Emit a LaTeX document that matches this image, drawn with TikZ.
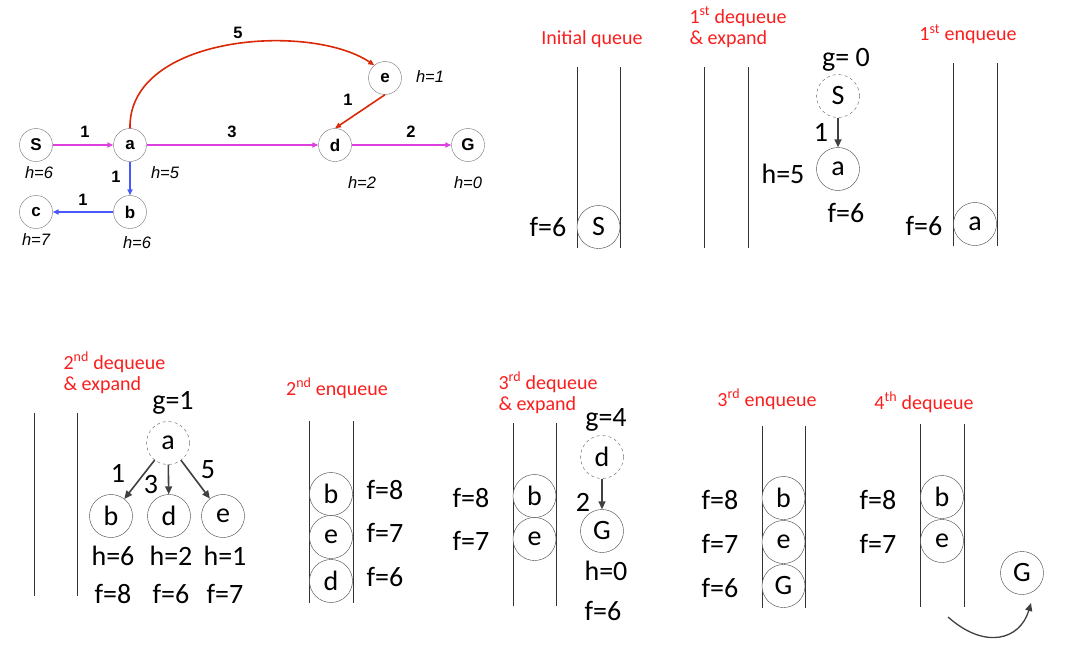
\documentclass[tikz,border=0pt]{standalone}
\usepackage{fontspec}
\setmainfont{Carlito}
\newfontfamily\arialfont{Liberation Sans}
\usetikzlibrary{arrows.meta}

\begin{document}
\begin{tikzpicture}[x=1pt,y=-1pt]
\definecolor{steptext}{RGB}{250,30,30}
\definecolor{pinkedge}{RGB}{222,64,222}
\definecolor{blueedge}{RGB}{72,88,250}
\definecolor{redarc}{RGB}{218,40,8}
\tikzset{
  gnode/.style={draw=black!55,circle,fill=white,minimum size=33pt,inner sep=0pt,
    font=\arialfont\bfseries\fontsize{17}{17}\selectfont},
  hlab/.style={font=\arialfont\itshape\fontsize{16.5}{16.5}\selectfont},
  wlab/.style={font=\arialfont\bfseries\fontsize{16.5}{16.5}\selectfont},
  gedge/.style={line width=1.6pt,-{Triangle[length=6pt,width=5pt]}},
  qnode/.style={draw=black!75,circle,fill=white,minimum size=43pt,inner sep=0pt,
    font=\fontsize{28}{28}\selectfont},
  popped/.style={qnode,dashed,draw=black!65},
  lab/.style={font=\fontsize{28}{28}\selectfont},
  steplab/.style={text=steptext,font=\fontsize{20}{21}\selectfont,align=left},
  wall/.style={draw=black!80,line width=0.9pt},
  tarrow/.style={draw=black!75,line width=1.6pt,-{Triangle[length=8pt,width=7pt]}},
}
\useasboundingbox (0,0) rectangle (1066,645);

% the search graph, edge costs and heuristic h
\node[gnode] (S) at (36,145) {S};
\node[gnode] (a) at (130,145) {a};
\node[gnode] (d) at (335,145) {d};
\node[gnode] (G) at (468,145) {G};
\node[gnode] (e) at (385,78) {e};
\node[gnode] (b) at (130,212) {b};
\node[gnode] (c) at (36,212) {c};
\draw[gedge,pinkedge] (S) -- (a);
\draw[gedge,pinkedge] (a) -- (d);
\draw[gedge,pinkedge] (d) -- (G);
\draw[gedge,blueedge] (a) -- (b);
\draw[gedge,blueedge] (b) -- (c);
\draw[gedge,redarc] (a.north) .. controls (128,35) and (310,22) .. (e.130);
\draw[gedge,redarc] (e.south) -- (d.north);
\foreach \nm/\xx/\yy/\w in {Sa/85/132/1, ad/232/132/3, dG/411/132/2, ae/238/33/5, ed/348/100/1, ab/116/177/1, bc/83/200/1}
  \node[wlab] (w\nm) at (\xx,\yy) {\w};
\foreach \nm/\xx/\yy/\h in {S/39/173/6, a/165/173/5, d/362/183/2, G/468/183/0, e/430/77/1, c/36/240/7, b/137/243/6}
  \node[hlab] (h\nm) at (\xx,\yy) {h=\h};

% queue walls: left x / right x / top y / bottom y
\foreach \xl/\xr/\yt/\yb in {577/620/67/248, 704/748/67/248, 953/997/63/246, 34/77/413/596,
    309/353/421/603, 513/556/423/606, 762/805/426/608, 920/964/424/607}
  \draw[wall] (\xl,\yt) -- (\xl,\yb) (\xr,\yt) -- (\xr,\yb);

% initial queue
\node[steplab] (t0) at (592,39) {Initial queue};
\node[qnode] (q0S) at (598.5,227) {S};
\node[lab] (f0S) at (548,227) {f=6};

% 1st dequeue & expand
\node[steplab,anchor=west] (t1) at (686,27) {1\textsuperscript{st} dequeue\\\& expand};
\node[lab] (g1) at (846,60) {g= 0};
\node[popped] (x1S) at (838,96) {S};
\node[qnode] (x1a) at (838,169) {a};
\draw[tarrow] (x1S) -- (x1a);
\node[lab] (w1) at (821,132) {1};
\node[lab] (h1a) at (783,174) {h=5};
\node[lab] (f1a) at (846,213) {f=6};

% 1st enqueue
\node[steplab] (t2) at (968,34) {1\textsuperscript{st} enqueue};
\node[qnode] (q1a) at (975,224) {a};
\node[lab] (f1q) at (924,226) {f=6};

% 2nd dequeue & expand
\node[steplab,anchor=west] (t3) at (60,373) {2\textsuperscript{nd} dequeue\\\& expand};
\node[lab] (g2) at (173,403) {g=1};
\node[popped] (x2a) at (168,443) {a};
\foreach \nm/\xx/\w/\wx/\wy/\h/\f in {b/111/1/118/473/6/8, d/169/3/151/485/2/6, e/223/5/208/470/1/7}
{
  \node[qnode] (x2\nm) at (\xx,516) {\nm};
  \draw[tarrow] (x2a) -- (x2\nm);
  \node[lab] (w2\nm) at (\wx,\wy) {\w};
  \node[lab] (h2\nm) at (\xx+2,556) {h=\h};
  \node[lab] (f2\nm) at (\xx+2,594) {f=\f};
}

% 2nd enqueue
\node[steplab] (t4) at (337,388) {2\textsuperscript{nd} enqueue};
\foreach \nm/\yy/\f in {b/494/8, e/537/7, d/581/6}
{
  \node[qnode] (q2\nm) at (331,\yy) {\nm};
  \node[lab] (f2q\nm) at (385,\yy-4) {f=\f};
}

% 3rd dequeue & expand
\node[steplab,anchor=west] (t5) at (495,393) {3\textsuperscript{rd} dequeue\\\& expand};
\foreach \nm/\yy/\f in {b/496/8, e/539/7}
{
  \node[qnode] (q3\nm) at (534.5,\yy) {\nm};
  \node[lab] (f3q\nm) at (471,\yy+2) {f=\f};
}
\node[lab] (g3) at (606,420) {g=4};
\node[popped] (x3d) at (602,457) {d};
\node[qnode] (x3G) at (602,531) {G};
\draw[tarrow] (x3d) -- (x3G);
\node[lab] (w3) at (583,502) {2};
\node[lab] (h3G) at (606,571) {h=0};
\node[lab] (f3G) at (603,611) {f=6};

% 3rd enqueue
\node[steplab] (t6) at (767,399) {3\textsuperscript{rd} enqueue};
\foreach \nm/\yy/\f in {b/498/8, e/542/7, G/586/6}
{
  \node[qnode] (q4\nm) at (783.5,\yy) {\nm};
  \node[lab] (f4q\nm) at (720,\yy+2) {f=\f};
}

% 4th dequeue, G leaves the queue
\node[steplab] (t7) at (924,402) {4\textsuperscript{th} dequeue};
\foreach \nm/\yy/\f in {b/497/8, e/541/7}
{
  \node[qnode] (q5\nm) at (942,\yy) {\nm};
  \node[lab] (f5q\nm) at (878,\yy+3) {f=\f};
}
\node[qnode] (x5G) at (1022,573) {G};
\coordinate (popfrom) at (948,617);
\coordinate (popto) at (1031,603);
\draw[tarrow,line width=1.3pt] (popfrom) .. controls (985,650) and (1020,640) .. (popto);
\end{tikzpicture}
\end{document}
